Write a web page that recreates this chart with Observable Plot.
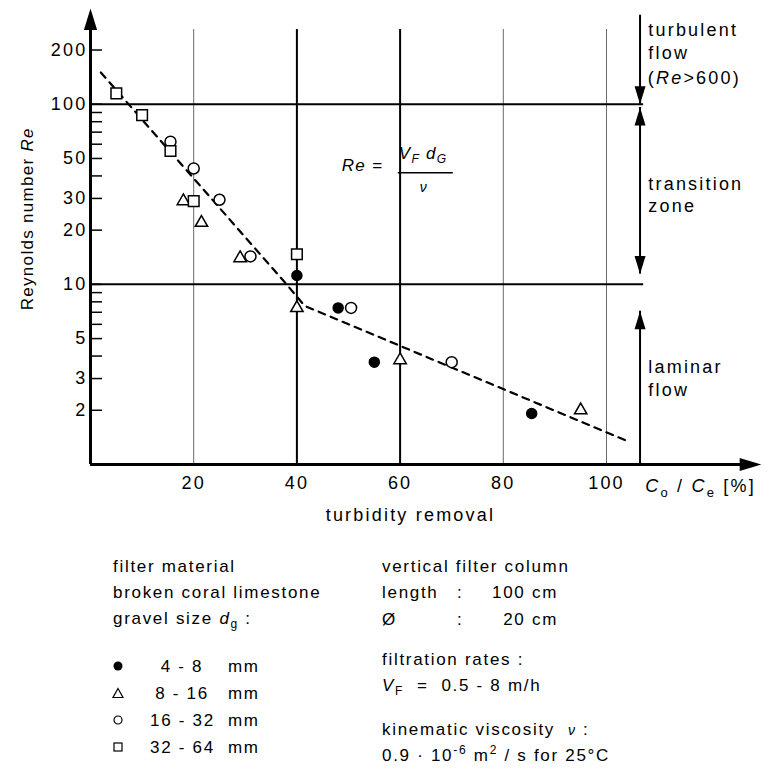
<!DOCTYPE html>
<html>
<head>
<meta charset="utf-8">
<script src="https://cdn.jsdelivr.net/npm/d3@7"></script>
<script src="https://cdn.jsdelivr.net/npm/@observablehq/plot@0.6"></script>
<style>
  body { margin: 0; background: #fff; }
  #wrap { position: relative; width: 770px; height: 771px; background: #fff; overflow: hidden;
          font-family: "Liberation Sans", Arial, Helvetica, sans-serif; color: #000; }
  #chart { position: absolute; left: 0; top: 0; }
  .lg { position: absolute; font-size: 17px; letter-spacing: 1.7px; line-height: 24px; white-space: nowrap; }
  .sym { display: inline-block; width: 14px; height: 14px; vertical-align: -1px; margin-left: -7px; }
  .rng { display: inline-block; width: 64px; text-align: center; }
  sub, sup { font-size: 12px; line-height: 0; }
  i { font-style: italic; }
</style>
</head>
<body>
<div id="wrap">
  <div id="chart"></div>

  <div class="lg" style="left:113px;top:555px">filter material</div>
  <div class="lg" style="left:113px;top:581px">broken coral limestone</div>
  <div class="lg" style="left:113px;top:607px">gravel size <i>d</i><sub>g</sub> :</div>
  <div id="legendRows"></div>

  <div class="lg" style="left:382px;top:555px">vertical filter column</div>
  <div class="lg" style="left:382px;top:581px"><span style="display:inline-block;width:75px">length</span><span style="display:inline-block;width:35px">:</span><span style="display:inline-block;width:66px;text-align:right">100 cm</span></div>
  <div class="lg" style="left:382px;top:608px"><span style="display:inline-block;width:75px">Ø</span><span style="display:inline-block;width:35px">:</span><span style="display:inline-block;width:66px;text-align:right">20 cm</span></div>
  <div class="lg" style="left:382px;top:648px">filtration rates :</div>
  <div class="lg" style="left:382px;top:674px"><i>V</i><sub>F</sub> &nbsp;= &nbsp;0.5 - 8 m/h</div>
  <div class="lg" style="left:382px;top:718px">kinematic viscosity &nbsp;<i style="font-size:14px">ν</i> :</div>
  <div class="lg" style="left:382px;top:744px">0.9 · 10<sup>-6</sup> m<sup>2</sup> / s for 25°C</div>
</div>

<script>
// ---------- data (turbidity removal %, Reynolds number) ----------
const gravel_4_8   = [[40, 11.2], [48, 7.4], [55, 3.7], [85.5, 1.92]];
const gravel_8_16  = [[18, 29], [21.5, 22], [29, 14], [40, 7.4], [60, 3.8], [95, 2.0]];
const gravel_16_32 = [[15.5, 62], [20, 44], [25, 29.5], [31, 14.3], [50.5, 7.4], [70, 3.7]];
const gravel_32_64 = [[5, 115], [10, 87], [15.5, 55], [20, 29], [40, 14.7]];
const trendLine    = [[2, 150], [38, 10], [41.5, 7.6], [104, 1.35]];

const xTickLabels  = [20, 40, 60, 80, 100];
const yTickMarks   = [2, 3, 4, 5, 6, 7, 8, 9, 10, 20, 30, 40, 50, 60, 70, 80, 90, 100, 200];
const yTickLabels  = [2, 3, 5, 7, 10, 20, 30, 50, 70, 100, 200];
const boldGridX    = [40, 60];
const lightGridX   = [20, 80, 100];
const regimeBounds = [10, 100];           // Re limits laminar / transition / turbulent
const regimeX      = 106.5;               // position of the regime arrows
const regimeShafts = [[312, 100], [96, 11.4], [1, 7.1]];
const regimeTips   = [[100, 180], [96, 0], [11.4, 180], [7.1, 0]];
const axisTips     = [[0, 340, 0], [130, 1, 90]];

const gravelClasses = ["4 - 8", "8 - 16", "16 - 32", "32 - 64"];
const gravelShapes  = ["dot", "triangle", "circle", "square"];

const fontFamily = '"Liberation Sans", Arial, Helvetica, sans-serif';
const X = d => d[0], Y = d => d[1];

// arrowhead symbol with its tip at the origin, pointing up
const arrowHead = {
  draw(ctx, size) {
    const r = Math.sqrt(size / Math.PI);
    ctx.moveTo(0, 0);
    ctx.lineTo(r * 0.55, r * 1.8);
    ctx.lineTo(-r * 0.55, r * 1.8);
    ctx.closePath();
  }
};

const plot = Plot.plot({
  width: 770,
  height: 530,
  marginLeft: 90,
  marginRight: 112.4,
  marginTop: 29,
  marginBottom: 66,
  x: {domain: [0, 110]},
  y: {type: "log", domain: [1, 260]},
  style: {fontFamily, fontSize: "18px", color: "#000", background: "#fff", overflow: "visible", letterSpacing: "2.2px"},
  marks: [
    Plot.ruleX(lightGridX, {y1: 1, y2: 260, stroke: "#6a6a6a", strokeWidth: 1}),
    Plot.ruleX(boldGridX, {y1: 1, y2: 260, stroke: "#000", strokeWidth: 2}),
    Plot.ruleY(regimeBounds, {x1: 0, x2: 107.2, stroke: "#000", strokeWidth: 2}),
    Plot.ruleX(regimeShafts, {x: regimeX, y1: d => d[0], y2: d => d[1], stroke: "#000", strokeWidth: 2}),
    Plot.dot(regimeTips, {x: regimeX, y: d => d[0], rotate: d => d[1], symbol: arrowHead, r: 10, fill: "#000", stroke: null}),
    // axes
    Plot.ruleY(yTickMarks, {x1: 0, x2: 12 / 5.16, stroke: "#000", strokeWidth: 1.5}),
    Plot.ruleX([0], {y1: 1, y2: 300, stroke: "#000", strokeWidth: 3}),
    Plot.ruleY([1], {x1: 0, x2: 126, stroke: "#000", strokeWidth: 3}),
    Plot.dot(axisTips, {x: d => d[0], y: d => d[1], rotate: d => d[2], symbol: arrowHead, r: 12, fill: "#000", stroke: null}),
    Plot.axisY({ticks: yTickLabels, tickSize: 0, tickPadding: 3, label: null, tickFormat: d => String(d), fontSize: 18}),
    Plot.axisX({ticks: xTickLabels, tickSize: 0, tickPadding: 12, label: null, tickFormat: d => String(d), fontSize: 18}),
    // trend
    Plot.line(trendLine, {x: X, y: Y, stroke: "#000", strokeWidth: 2.2, strokeDasharray: "7,6"}),
    // observations
    Plot.dot(gravel_4_8,   {x: X, y: Y, r: 5, fill: "#000", stroke: "#000"}),
    Plot.dot(gravel_8_16,  {x: X, y: Y, symbol: "triangle", r: 4.6, fill: "#fff", stroke: "#000", strokeWidth: 1.5}),
    Plot.dot(gravel_16_32, {x: X, y: Y, symbol: "circle", r: 5.5, fill: "#fff", stroke: "#000", strokeWidth: 1.5}),
    Plot.dot(gravel_32_64, {x: X, y: Y, symbol: "square", r: 6, fill: "#fff", stroke: "#000", strokeWidth: 1.5}),
    // plain annotations
    Plot.text(["turbulent", "flow"], {x: 108.1, y: [258, 192], text: d => d, textAnchor: "start", lineAnchor: "middle", fontSize: 18}),
    Plot.text(["transition", "zone"], {x: 108.1, y: [36, 27.1], text: d => d, textAnchor: "start", lineAnchor: "middle", fontSize: 18}),
    Plot.text(["laminar", "flow"], {x: 108.1, y: [3.46, 2.58], text: d => d, textAnchor: "start", lineAnchor: "middle", fontSize: 18}),
    Plot.text(["turbidity removal"], {x: 62, y: 1, dy: 51, text: d => d, textAnchor: "middle", lineAnchor: "middle", fontSize: 18})
  ]
});

document.getElementById("chart").appendChild(plot);

// ---------- rich-text annotations positioned via the plot's scales ----------
const sx = plot.scale("x"), sy = plot.scale("y");
const svg = d3.select(plot);
const g = svg.append("g").attr("font-family", fontFamily).attr("font-size", 18)
  .attr("fill", "#000").attr("text-anchor", "start");

// y axis title
const yl = g.append("text")
  .attr("transform", `translate(${sx.apply(0) - 57},${sy.apply(23)}) rotate(-90)`)
  .attr("text-anchor", "middle").attr("font-size", 17).style("letter-spacing", "1.3px");
yl.append("tspan").text("Reynolds number ");
yl.append("tspan").attr("font-style", "italic").text("Re");

// (Re>600)
const rt = g.append("text").attr("x", sx.apply(108.1)).attr("y", sy.apply(139)).attr("dy", "0.35em");
rt.append("tspan").text("(");
rt.append("tspan").attr("font-style", "italic").text("Re");
rt.append("tspan").text(">600)");

// Co / Ce [%]
const cx = g.append("text").attr("x", sx.apply(107.6)).attr("y", sy.apply(1) + 28);
cx.append("tspan").attr("font-style", "italic").text("C");
cx.append("tspan").attr("font-size", 13).attr("dy", 5).text("o");
cx.append("tspan").attr("dy", -5).text(" / ");
cx.append("tspan").attr("font-style", "italic").text("C");
cx.append("tspan").attr("font-size", 13).attr("dy", 5).text("e");
cx.append("tspan").attr("dy", -5).text(" [%]");

// formula Re = VF dG / nu
const fx = sx.apply(48.8), fy = sy.apply(45);
const fg = g.append("g").attr("font-size", 17).style("letter-spacing", "1.3px");
const f1 = fg.append("text").attr("x", fx).attr("y", fy + 5);
f1.append("tspan").attr("font-style", "italic").text("Re");
f1.append("tspan").text(" =");
fg.append("line").attr("x1", fx + 56).attr("x2", fx + 111).attr("y1", fy + 6.5).attr("y2", fy + 6.5)
  .attr("stroke", "#000").attr("stroke-width", 1.5);
const f2 = fg.append("text").attr("x", fx + 57).attr("y", fy - 7).attr("font-style", "italic");
f2.append("tspan").text("V");
f2.append("tspan").attr("font-size", 12).attr("dy", 4).text("F");
f2.append("tspan").attr("dy", -4).text(" d");
f2.append("tspan").attr("font-size", 12).attr("dy", 4).text("G");
fg.append("text").attr("x", fx + 82).attr("y", fy + 26).attr("font-style", "italic")
  .attr("font-size", 14).attr("text-anchor", "middle").text("ν");

// ---------- legend rows ----------
const rowsTop = [655, 682, 709, 736];
const holder = document.getElementById("legendRows");
gravelClasses.forEach((label, i) => {
  const div = document.createElement("div");
  div.className = "lg";
  div.style.left = "118px";
  div.style.top = rowsTop[i] + "px";
  const shape = gravelShapes[i];
  let s = "";
  if (shape === "dot") s = '<circle cx="7" cy="7" r="4.5" fill="#000"/>';
  if (shape === "triangle") s = '<path d="M7,2.5 L12,11.5 L2,11.5 Z" fill="none" stroke="#000" stroke-width="1.2"/>';
  if (shape === "circle") s = '<circle cx="7" cy="7" r="4" fill="none" stroke="#000" stroke-width="1.2"/>';
  if (shape === "square") s = '<rect x="3" y="3" width="8" height="8" fill="none" stroke="#000" stroke-width="1.2"/>';
  div.innerHTML = `<svg class="sym" viewBox="0 0 14 14">${s}</svg><span style="display:inline-block;width:25px"></span><span class="rng">${label}</span><span style="display:inline-block;width:14px"></span>mm`;
  holder.appendChild(div);
});
</script>
</body>
</html>
